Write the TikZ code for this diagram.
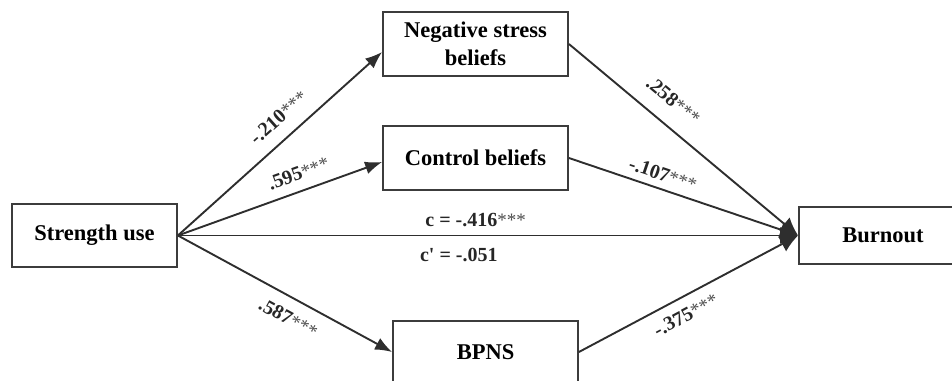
\documentclass[tikz,border=0pt]{standalone}
\usepackage{fontspec}
\setmainfont{Liberation Serif}
\usetikzlibrary{arrows.meta}
\definecolor{lncol}{HTML}{2E2E2E}
\definecolor{bxcol}{HTML}{3C3C3C}
\newcommand{\stars}{{\mdseries\fontsize{19}{19}\selectfont\color{black!70}***}}
\begin{document}
\begin{tikzpicture}[x=1pt,y=-1pt,
  box/.style={draw=bxcol, line width=1.8pt, fill=white, font=\bfseries\fontsize{22.5}{28}\selectfont, align=center, inner sep=0pt},
  path/.style={draw=lncol, line width=1.9pt, -{Latex[length=17pt,width=13pt]}},
  inpath/.style={draw=lncol, line width=1.9pt, -{Latex[length=18pt,width=17pt]}},
  coef/.style={font=\bfseries\fontsize{20}{22}\selectfont, inner sep=1pt, text=black!85}]
\useasboundingbox (0,0) rectangle (952,380);
\node[box, minimum width=165pt, minimum height=63pt] (su) at (94.5,235.5) {Strength use};
\node[box, minimum width=185pt, minimum height=64pt] (nsb) at (475.5,44) {Negative stress\\beliefs};
\node[box, minimum width=185pt, minimum height=64pt] (cb) at (475.5,158) {Control beliefs};
\node[box, minimum width=185pt, minimum height=62pt] (bp) at (485.5,352) {BPNS};
\node[box, minimum width=168pt, minimum height=57pt] (bo) at (883,235.5) {Burnout};
\coordinate (nsbin) at ([yshift=-8pt]nsb.west);
\coordinate (cbin) at ([yshift=-4pt]cb.west);
\draw[path] (su.east) -- (nsbin) node[coef, sloped, pos=0.56, above=12pt] {-.210\stars};
\draw[path] (su.east) -- (cbin) node[coef, sloped, pos=0.62, above=9pt] {.595\stars};
\draw[path] (su.east) -- (bp.west) node[coef, sloped, pos=0.56, below=11pt] {.587\stars};
\draw[inpath] (su.east) -- (bo.west)
  node[coef, pos=0.48, above=7pt] {c = -.416\stars}
  node[coef, pos=0.453, below=11pt] {c\textquotesingle{} = -.051};
\draw[inpath] (nsb.east) -- (bo.west) node[coef, sloped, pos=0.39, above=15pt] {.258\stars};
\draw[inpath] (cb.east) -- (bo.west) node[coef, sloped, pos=0.39, above=6pt] {-.107\stars};
\draw[inpath] (bp.east) -- (bo.west) node[coef, sloped, pos=0.45, below=9pt] {-.375\stars};
\end{tikzpicture}
\end{document}
